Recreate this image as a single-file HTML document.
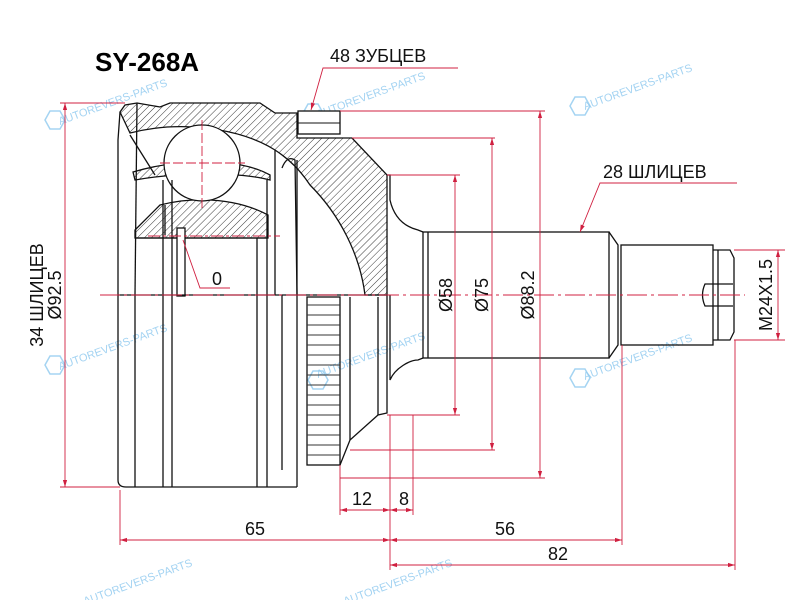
<!DOCTYPE html>
<html><head><meta charset="utf-8"><style>
html,body{margin:0;padding:0;background:#fff;}
svg{display:block;font-family:"Liberation Sans","DejaVu Sans",sans-serif;}
</style></head><body>
<svg width="800" height="600" viewBox="0 0 800 600" xmlns="http://www.w3.org/2000/svg">
<defs>
<pattern id="h" width="5" height="5" patternUnits="userSpaceOnUse" patternTransform="rotate(45)">
<line x1="0" y1="0" x2="0" y2="5" stroke="#222" stroke-width="0.9"/>
</pattern>
<marker id="a" viewBox="0 0 10 10" refX="10" refY="5" markerWidth="8" markerHeight="8" orient="auto-start-reverse"><path d="M0,2 L10,5 L0,8 z" fill="#d02040"/></marker>
</defs>
<text x="95" y="71" font-size="26" font-weight="bold" fill="#000">SY-268A</text>

<g fill="#8ec9ef" font-size="11" opacity="0.8">
<text transform="translate(60,125) rotate(-20)">AUTOREVERS-PARTS</text>
<text transform="translate(318,118) rotate(-20)">AUTOREVERS-PARTS</text>
<text transform="translate(585,110) rotate(-20)">AUTOREVERS-PARTS</text>
<text transform="translate(60,370) rotate(-20)">AUTOREVERS-PARTS</text>
<text transform="translate(318,378) rotate(-20)">AUTOREVERS-PARTS</text>
<text transform="translate(585,380) rotate(-20)">AUTOREVERS-PARTS</text>
<text transform="translate(85,605) rotate(-20)">AUTOREVERS-PARTS</text>
<text transform="translate(345,605) rotate(-20)">AUTOREVERS-PARTS</text>
</g>
<g fill="none" stroke="#8ec9ef" stroke-width="1.5" opacity="0.8">
<polygon points="45,120 50,111 60,111 65,120 60,129 50,129"/>
<polygon points="303,113 308,104 318,104 323,113 318,122 308,122"/>
<polygon points="570,106 575,97 585,97 590,106 585,115 575,115"/>
<polygon points="45,365 50,356 60,356 65,365 60,374 50,374"/>
<polygon points="308,380 313,371 323,371 328,380 323,389 313,389"/>
<polygon points="570,378 575,369 585,369 590,378 585,387 575,387"/>
</g>

<g stroke="#111" stroke-width="1.3" fill="none">
<path d="M120,112 L125,105 L137,103 L160,107 L170,103 L260,103 L275,113 L297,113 L297,138 L352,138 L387,175 L387,295 L365,295 C360,255 340,215 310,185 C300,170 290,160 275,150 C240,128 180,120 130,133 Z" fill="url(#h)"/>
<path d="M120,112 L118,140 L118,480 Q118,487 126,487 L297,487"/>
<line x1="137" y1="103" x2="135" y2="295"/>
<path d="M133,172 C180,158 240,158 270,175 L270,180 C240,172 180,172 135,180 Z" fill="url(#h)"/>
<path d="M130,135 L155,175"/>
<path d="M135,230 L160,205 C200,195 240,200 268,215 L268,238 L135,238 Z" fill="url(#h)"/>
<path d="M165,205 L165,235"/>
<line x1="135" y1="238" x2="268" y2="238"/>
<circle cx="202" cy="163" r="38" fill="#fff"/>
<line x1="163" y1="180" x2="163" y2="295"/>
<line x1="172" y1="180" x2="172" y2="295"/>
<line x1="257" y1="238" x2="257" y2="295"/>
<line x1="267" y1="180" x2="267" y2="295"/>
<line x1="275" y1="150" x2="275" y2="295"/>
<path d="M282,168 Q287,155 295,160 L297,295"/>
<line x1="297" y1="160" x2="297" y2="487"/>
<rect x="177" y="228" width="8" height="68" fill="#fff"/>
<line x1="135" y1="295" x2="135" y2="487"/>
<line x1="163" y1="295" x2="163" y2="487"/>
<line x1="172" y1="295" x2="172" y2="487"/>
<line x1="257" y1="295" x2="257" y2="487"/>
<line x1="267" y1="295" x2="267" y2="487"/>
<line x1="282" y1="295" x2="282" y2="470"/>
<line x1="118" y1="295" x2="387" y2="295"/>
<rect x="307" y="297" width="33" height="168"/>
<line x1="350" y1="297" x2="350" y2="440"/>
<path d="M340,465 L350,440 L378,415 L387,413 L387,295"/>
<line x1="378" y1="297" x2="378" y2="415"/>
<path d="M387,175 L390,175 L390,200 C395,222 410,228 418,230 L423,232"/>
<path d="M390,295 L390,380 C395,368 410,360 418,360 L423,358"/>
<rect x="423" y="232" width="186" height="126"/>
<line x1="428" y1="232" x2="428" y2="358"/>
<path d="M609,232 L618,245 L618,345 L609,358"/>
<rect x="621" y="245" width="92" height="100"/>
<path d="M713,250 L730,250 L734,258 L734,332 L730,340 L713,340"/>
<line x1="718" y1="250" x2="718" y2="340"/>
<path d="M733,284 L705,284 Q700,295 705,306 L733,306"/>
</g>
<g stroke="#333" stroke-width="1">
<line x1="307" y1="305" x2="340" y2="305"/><line x1="307" y1="315" x2="340" y2="315"/><line x1="307" y1="325" x2="340" y2="325"/><line x1="307" y1="335" x2="340" y2="335"/><line x1="307" y1="345" x2="340" y2="345"/><line x1="307" y1="355" x2="340" y2="355"/><line x1="307" y1="365" x2="340" y2="365"/><line x1="307" y1="375" x2="340" y2="375"/><line x1="307" y1="385" x2="340" y2="385"/><line x1="307" y1="395" x2="340" y2="395"/><line x1="307" y1="405" x2="340" y2="405"/><line x1="307" y1="415" x2="340" y2="415"/><line x1="307" y1="425" x2="340" y2="425"/><line x1="307" y1="435" x2="340" y2="435"/><line x1="307" y1="445" x2="340" y2="445"/><line x1="307" y1="455" x2="340" y2="455"/>
</g>
<rect x="298" y="111" width="42" height="23" fill="#fff" stroke="#111" stroke-width="1.3"/>
<line x1="298" y1="123" x2="340" y2="123" stroke="#111"/>

<g stroke="#d02040" stroke-width="0.9" fill="none">
<line x1="100" y1="295" x2="745" y2="295" stroke-dasharray="20,4,3,4"/>
<line x1="202" y1="120" x2="202" y2="210" stroke-dasharray="10,3"/>
<line x1="160" y1="163" x2="245" y2="163" stroke-dasharray="10,3"/>
<line x1="148" y1="236" x2="280" y2="236" stroke-dasharray="12,3,3,3"/>
<path d="M183,240 L200,288 L230,288"/>
<path d="M458,68 L323,68 L311,110" marker-end="url(#a)"/>
<line x1="340" y1="111" x2="545" y2="111"/>
<line x1="352" y1="138" x2="495" y2="138"/>
<line x1="387" y1="175" x2="460" y2="175"/>
<line x1="387" y1="415" x2="460" y2="415"/>
<line x1="350" y1="450" x2="495" y2="450"/>
<line x1="340" y1="478" x2="545" y2="478"/>
<line x1="455" y1="175" x2="455" y2="415" marker-start="url(#a)" marker-end="url(#a)"/>
<line x1="492" y1="138" x2="492" y2="450" marker-start="url(#a)" marker-end="url(#a)"/>
<line x1="540" y1="111" x2="540" y2="478" marker-start="url(#a)" marker-end="url(#a)"/>
<path d="M737,183 L600,183 L580,232" marker-end="url(#a)"/>
<line x1="734" y1="250" x2="785" y2="250"/>
<line x1="734" y1="340" x2="785" y2="340"/>
<line x1="778" y1="250" x2="778" y2="340" marker-start="url(#a)" marker-end="url(#a)"/>
<line x1="60" y1="103" x2="125" y2="103"/>
<line x1="60" y1="487" x2="120" y2="487"/>
<line x1="65" y1="103" x2="65" y2="487" marker-start="url(#a)" marker-end="url(#a)"/>
<line x1="340" y1="465" x2="340" y2="515"/>
<line x1="390" y1="415" x2="390" y2="570"/>
<line x1="413" y1="415" x2="413" y2="515"/>
<line x1="120" y1="490" x2="120" y2="545"/>
<line x1="622" y1="345" x2="622" y2="545"/>
<line x1="735" y1="340" x2="735" y2="570"/>
<line x1="340" y1="510" x2="390" y2="510" marker-start="url(#a)" marker-end="url(#a)"/>
<line x1="390" y1="510" x2="413" y2="510" marker-start="url(#a)" marker-end="url(#a)"/>
<line x1="120" y1="540" x2="390" y2="540" marker-start="url(#a)" marker-end="url(#a)"/>
<line x1="390" y1="540" x2="622" y2="540" marker-start="url(#a)" marker-end="url(#a)"/>
<line x1="390" y1="565" x2="735" y2="565" marker-start="url(#a)" marker-end="url(#a)"/>
</g>

<g font-size="18" fill="#111">
<text x="330" y="62">48 ЗУБЦЕВ</text>
<text x="603" y="178">28 ШЛИЦЕВ</text>
<text x="212" y="285">0</text>
<text x="352" y="505">12</text>
<text x="399" y="505">8</text>
<text x="245" y="535">65</text>
<text x="495" y="535">56</text>
<text x="548" y="560">82</text>
<text transform="translate(452,295) rotate(-90)" text-anchor="middle">Ø58</text>
<text transform="translate(488,295) rotate(-90)" text-anchor="middle">Ø75</text>
<text transform="translate(534,295) rotate(-90)" text-anchor="middle">Ø88.2</text>
<text transform="translate(772,295) rotate(-90)" text-anchor="middle">M24X1.5</text>
<text transform="translate(43,295) rotate(-90)" text-anchor="middle">34 ШЛИЦЕВ</text>
<text transform="translate(61,295) rotate(-90)" text-anchor="middle">Ø92.5</text>
</g>
</svg>
</body></html>
